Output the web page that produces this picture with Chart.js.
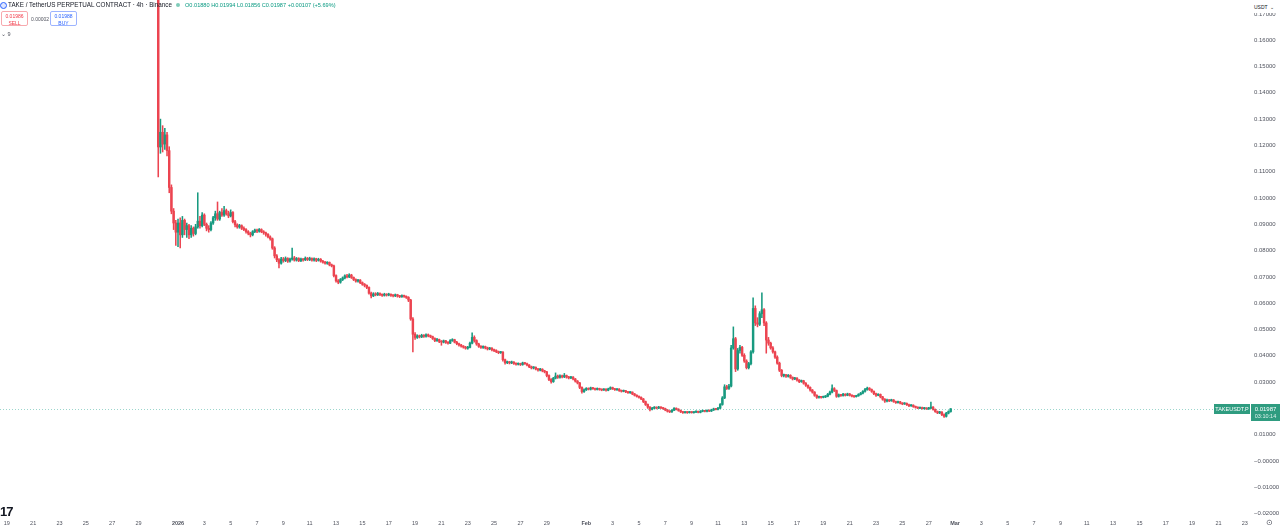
<!DOCTYPE html>
<html>
<head>
<meta charset="utf-8">
<title>TAKE / TetherUS PERPETUAL CONTRACT · 4h · Binance</title>
<script src="https://cdn.jsdelivr.net/npm/chart.js@4.4.1/dist/chart.umd.min.js"></script>
<style>
  html, body { margin: 0; padding: 0; background: #fff; }
  #wrap { position: relative; width: 1280px; height: 528px; overflow: hidden; font-family: "Liberation Sans", Arial, sans-serif; }
  #chart { position: absolute; left: 0; top: 0; }
  .t { position: absolute; white-space: nowrap; line-height: 1; }
  #logo { position: absolute; left: 0; top: 2px; width: 5px; height: 5px; border: 1px solid #2962ff; border-radius: 50%; background: #dfe6ff; }
  #title { left: 8px; top: 2px; font-size: 6.3px; color: #131722; }
  #dot { position: absolute; left: 176px; top: 3px; width: 4px; height: 4px; border-radius: 50%; background: #7fcbb9; }
  #ohlc { left: 185px; top: 3px; font-size: 5.6px; color: #089981; }
  .box { position: absolute; top: 11px; width: 27px; height: 15px; border-radius: 2px; text-align: center; font-size: 5px; line-height: 6.5px; padding-top: 1px; box-sizing: border-box; }
  #sell { left: 1px; border: 1px solid #f7a9ae; color: #f23645; }
  #buy { left: 50px; border: 1px solid #9db4ff; color: #2962ff; }
  #spread { left: 31px; top: 17px; font-size: 5px; color: #50535e; }
  #ind { left: 1px; top: 32px; font-size: 5.5px; color: #50535e; }
  #usdt { position: absolute; left: 1251px; top: 0; width: 29px; height: 13px; background: #fff; font-size: 5px; color: #131722; line-height: 14px; padding-left: 3px; box-sizing: border-box; }
  #tv { left: 0; top: 505px; font-size: 13px; font-weight: bold; color: #131722; letter-spacing: -1px; }
  #clock { left: 1266px; top: 519px; font-size: 8px; color: #50535e; }
</style>
</head>
<body>
<div id="wrap">
  <canvas id="chart" width="1280" height="528"></canvas>
  <div id="logo"></div>
  <div class="t" id="title">TAKE / TetherUS PERPETUAL CONTRACT · 4h · Binance</div>
  <div id="dot"></div>
  <div class="t" id="ohlc">O0.01880 H0.01994 L0.01856 C0.01987 +0.00107 (+5.69%)</div>
  <div class="box" id="sell">0.01986<br>SELL</div>
  <div class="t" id="spread">0.00002</div>
  <div class="box" id="buy">0.01988<br>BUY</div>
  <div class="t" id="ind">⌄ 9</div>
  <div id="usdt">USDT &nbsp;⌄</div>
  <div class="t" id="tv">17</div>
  <div class="t" id="clock">⊙</div>
</div>
<script>
// 4h candles, first one opens Dec 30 2025 12:00 (days counted from Jan 1 2026)
const firstCandleDay = -1.5;
const candlesPerDay = 6;

const opens = [
  .1950,.1194,.1250,
  .1205,.1240,.1180,.1040,.0950,.0905,
  .0870,.0905,.0860,.0915,.0880,.0895,
  .0860,.0885,.0865,.0890,.0912,.0895,
  .0935,.0900,.0885,.0880,.0905,.0925,
  .0940,.0920,.0945,.0935,.0952,.0940,
  .0932,.0945,.0910,.0898,.0890,.0895,
  .0885,.0880,.0872,.0866,.0860,.0872,
  .0878,.0874,.0880,.0872,.0868,.0862,
  .0852,.0845,.0810,.0780,.0765,.0752,
  .0768,.0762,.0770,.0760,.0768,.0772,
  .0764,.0770,.0762,.0768,.0765,.0771,
  .0766,.0770,.0764,.0769,.0763,.0767,
  .0760,.0756,.0752,.0755,.0746,.0742,
  .0705,.0685,.0680,.0690,.0696,.0704,
  .0700,.0707,.0698,.0690,.0684,.0688,
  .0678,.0672,.0668,.0660,.0638,.0628,
  .0635,.0632,.0637,.0633,.0630,.0634,
  .0631,.0634,.0630,.0628,.0632,.0627,
  .0625,.0629,.0626,.0622,.0612,.0540,
  .0482,.0470,.0476,.0472,.0478,.0474,
  .0480,.0476,.0473,.0466,.0458,.0462,
  .0455,.0452,.0457,.0451,.0448,.0458,
  .0461,.0452,.0446,.0441,.0437,.0433,
  .0429,.0432,.0448,.0470,.0458,.0445,
  .0436,.0432,.0435,.0430,.0426,.0429,
  .0423,.0420,.0416,.0412,.0414,.0385,
  .0374,.0377,.0373,.0376,.0371,.0368,
  .0370,.0367,.0373,.0370,.0365,.0358,
  .0354,.0356,.0350,.0346,.0349,.0343,
  .0339,.0325,.0310,.0302,.0315,.0323,
  .0318,.0324,.0320,.0325,.0319,.0316,
  .0319,.0312,.0304,.0297,.0280,.0264,
  .0271,.0276,.0273,.0278,.0275,.0272,
  .0275,.0272,.0270,.0273,.0269,.0274,
  .0279,.0274,.0271,.0273,.0268,.0265,
  .0267,.0263,.0260,.0262,.0255,.0250,
  .0246,.0242,.0236,.0226,.0215,.0205,
  .0197,.0201,.0204,.0201,.0205,.0202,
  .0199,.0194,.0189,.0187,.0193,.0200,
  .0197,.0192,.0187,.0184,.0186,.0184,
  .0186,.0184,.0186,.0188,.0185,.0189,
  .0191,.0189,.0192,.0190,.0194,.0198,
  .0196,.0201,.0215,.0240,.0282,.0276,
  .0285,.0430,.0465,.0350,.0420,.0432,
  .0402,.0380,.0355,.0370,.0415,.0580,
  .0525,.0520,.0560,.0575,.0525,.0460,
  .0448,.0430,.0415,.0395,.0372,.0345,
  .0325,.0328,.0322,.0326,.0318,.0312,
  .0315,.0308,.0302,.0305,.0296,.0288,
  .0280,.0270,.0262,.0250,.0242,.0244,
  .0242,.0244,.0246,.0254,.0262,.0275,
  .0268,.0246,.0252,.0249,.0254,.0250,
  .0255,.0250,.0247,.0245,.0248,.0253,
  .0258,.0265,.0272,.0277,.0272,.0265,
  .0256,.0250,.0253,.0244,.0235,.0228,
  .0232,.0229,.0232,.0226,.0222,.0225,
  .0220,.0217,.0219,.0214,.0210,.0212,
  .0207,.0204,.0201,.0203,.0199,.0201,
  .0198,.0201,.0205,.0196,.0188,.0183,
  .0186,.0176,.0170,.0182,.0188
];

const highs = [
  .2100,.1300,.1275,
  .1265,.1250,.1195,.1050,.0960,.0915,
  .0920,.0925,.0930,.0920,.0905,.0900,
  .0895,.0890,.0900,.1020,.0930,.0945,
  .0940,.0905,.0895,.0910,.0930,.0950,
  .0985,.0950,.0960,.0968,.0958,.0950,
  .0955,.0948,.0915,.0902,.0900,.0898,
  .0890,.0884,.0876,.0870,.0876,.0882,
  .0882,.0884,.0883,.0876,.0870,.0865,
  .0856,.0848,.0815,.0785,.0770,.0774,
  .0774,.0776,.0773,.0772,.0810,.0778,
  .0774,.0773,.0772,.0770,.0776,.0774,
  .0775,.0773,.0773,.0771,.0771,.0770,
  .0763,.0759,.0758,.0757,.0749,.0745,
  .0708,.0690,.0694,.0700,.0708,.0710,
  .0712,.0710,.0700,.0693,.0691,.0690,
  .0681,.0675,.0670,.0662,.0642,.0640,
  .0640,.0641,.0639,.0636,.0638,.0636,
  .0638,.0636,.0633,.0635,.0634,.0630,
  .0632,.0631,.0628,.0625,.0615,.0545,
  .0488,.0480,.0479,.0482,.0481,.0484,
  .0483,.0479,.0475,.0468,.0466,.0464,
  .0458,.0460,.0459,.0454,.0462,.0465,
  .0463,.0455,.0448,.0444,.0439,.0436,
  .0436,.0452,.0487,.0476,.0461,.0448,
  .0439,.0438,.0437,.0433,.0432,.0431,
  .0426,.0423,.0418,.0417,.0416,.0388,
  .0380,.0379,.0380,.0378,.0373,.0373,
  .0372,.0376,.0375,.0372,.0367,.0361,
  .0359,.0358,.0352,.0352,.0351,.0345,
  .0341,.0328,.0313,.0318,.0335,.0327,
  .0328,.0327,.0333,.0327,.0322,.0322,
  .0321,.0314,.0306,.0299,.0282,.0274,
  .0279,.0278,.0281,.0280,.0277,.0278,
  .0277,.0274,.0275,.0275,.0277,.0282,
  .0281,.0276,.0275,.0275,.0270,.0270,
  .0269,.0265,.0264,.0263,.0257,.0252,
  .0248,.0244,.0238,.0228,.0217,.0207,
  .0204,.0207,.0206,.0208,.0206,.0204,
  .0201,.0196,.0191,.0196,.0203,.0202,
  .0199,.0194,.0189,.0188,.0188,.0189,
  .0188,.0188,.0191,.0190,.0192,.0194,
  .0193,.0195,.0194,.0197,.0201,.0200,
  .0204,.0218,.0245,.0290,.0288,.0292,
  .0440,.0510,.0470,.0428,.0440,.0436,
  .0408,.0385,.0375,.0420,.0620,.0590,
  .0545,.0568,.0639,.0580,.0530,.0470,
  .0452,.0435,.0418,.0400,.0376,.0348,
  .0331,.0330,.0329,.0328,.0320,.0318,
  .0317,.0310,.0308,.0307,.0298,.0290,
  .0282,.0272,.0264,.0252,.0247,.0246,
  .0247,.0249,.0257,.0266,.0290,.0279,
  .0270,.0255,.0254,.0257,.0256,.0258,
  .0257,.0252,.0249,.0250,.0256,.0261,
  .0268,.0276,.0281,.0279,.0274,.0267,
  .0258,.0256,.0255,.0246,.0237,.0235,
  .0234,.0235,.0234,.0228,.0228,.0227,
  .0222,.0222,.0221,.0216,.0215,.0214,
  .0209,.0206,.0205,.0205,.0204,.0203,
  .0204,.0224,.0207,.0198,.0190,.0189,
  .0188,.0179,.0185,.0191,.01994
];

const lows = [
  .1080,.1170,.1175,
  .1185,.1160,.1020,.0940,.0880,.0820,
  .0815,.0810,.0850,.0860,.0850,.0845,
  .0850,.0855,.0860,.0885,.0885,.0890,
  .0895,.0875,.0870,.0875,.0900,.0915,
  .0915,.0915,.0930,.0930,.0935,.0925,
  .0928,.0905,.0890,.0885,.0885,.0880,
  .0876,.0866,.0860,.0852,.0856,.0868,
  .0868,.0870,.0868,.0862,.0855,.0848,
  .0840,.0805,.0772,.0758,.0734,.0748,
  .0756,.0758,.0755,.0756,.0764,.0760,
  .0760,.0758,.0758,.0760,.0762,.0762,
  .0762,.0760,.0760,.0758,.0760,.0756,
  .0752,.0748,.0748,.0742,.0738,.0700,
  .0680,.0674,.0676,.0686,.0692,.0696,
  .0697,.0694,.0686,.0680,.0680,.0674,
  .0668,.0662,.0655,.0634,.0620,.0625,
  .0628,.0629,.0629,.0626,.0627,.0627,
  .0628,.0626,.0624,.0625,.0623,.0621,
  .0622,.0622,.0618,.0606,.0535,.0415,
  .0462,.0466,.0468,.0469,.0470,.0471,
  .0472,.0469,.0462,.0454,.0455,.0450,
  .0440,.0449,.0447,.0444,.0446,.0455,
  .0449,.0442,.0437,.0433,.0429,.0425,
  .0425,.0430,.0445,.0452,.0440,.0432,
  .0428,.0428,.0426,.0422,.0423,.0419,
  .0416,.0412,.0408,.0409,.0380,.0368,
  .0370,.0369,.0370,.0367,.0364,.0365,
  .0363,.0364,.0367,.0362,.0355,.0350,
  .0350,.0346,.0342,.0343,.0339,.0335,
  .0320,.0305,.0296,.0299,.0312,.0314,
  .0315,.0316,.0317,.0315,.0312,.0313,
  .0308,.0300,.0293,.0275,.0258,.0261,
  .0268,.0270,.0270,.0272,.0269,.0270,
  .0269,.0267,.0268,.0266,.0267,.0272,
  .0272,.0268,.0268,.0265,.0262,.0263,
  .0260,.0257,.0257,.0252,.0247,.0243,
  .0239,.0233,.0222,.0211,.0200,.0190,
  .0194,.0199,.0198,.0199,.0199,.0196,
  .0191,.0186,.0184,.0185,.0191,.0194,
  .0189,.0184,.0181,.0182,.0181,.0182,
  .0182,.0182,.0184,.0183,.0183,.0187,
  .0187,.0187,.0188,.0188,.0192,.0194,
  .0194,.0199,.0212,.0237,.0272,.0272,
  .0282,.0425,.0340,.0345,.0410,.0398,
  .0375,.0350,.0350,.0365,.0410,.0515,
  .0510,.0515,.0545,.0515,.0410,.0440,
  .0425,.0410,.0390,.0368,.0340,.0320,
  .0320,.0318,.0319,.0314,.0308,.0309,
  .0304,.0298,.0299,.0292,.0284,.0276,
  .0266,.0258,.0246,.0238,.0239,.0239,
  .0240,.0241,.0244,.0251,.0259,.0264,
  .0242,.0243,.0246,.0247,.0247,.0248,
  .0247,.0244,.0242,.0243,.0246,.0251,
  .0255,.0262,.0269,.0268,.0261,.0252,
  .0246,.0248,.0240,.0231,.0223,.0225,
  .0226,.0227,.0223,.0219,.0220,.0217,
  .0214,.0215,.0211,.0207,.0208,.0204,
  .0201,.0199,.0199,.0197,.0197,.0196,
  .0196,.0199,.0193,.0185,.0180,.0180,
  .0172,.0166,.0167,.0179,.01856
];

const closes = [
  .1194,.1250,.1205,
  .1240,.1180,.1040,.0950,.0905,.0870,
  .0905,.0860,.0915,.0880,.0895,.0860,
  .0885,.0865,.0890,.0912,.0895,.0935,
  .0900,.0885,.0880,.0905,.0925,.0940,
  .0920,.0945,.0935,.0952,.0940,.0932,
  .0945,.0910,.0898,.0890,.0895,.0885,
  .0880,.0872,.0866,.0860,.0872,.0878,
  .0874,.0880,.0872,.0868,.0862,.0852,
  .0845,.0810,.0780,.0765,.0752,.0768,
  .0762,.0770,.0760,.0768,.0772,.0764,
  .0770,.0762,.0768,.0765,.0771,.0766,
  .0770,.0764,.0769,.0763,.0767,.0760,
  .0756,.0752,.0755,.0746,.0742,.0705,
  .0685,.0680,.0690,.0696,.0704,.0700,
  .0707,.0698,.0690,.0684,.0688,.0678,
  .0672,.0668,.0660,.0638,.0628,.0635,
  .0632,.0637,.0633,.0630,.0634,.0631,
  .0634,.0630,.0628,.0632,.0627,.0625,
  .0629,.0626,.0622,.0612,.0540,.0482,
  .0470,.0476,.0472,.0478,.0474,.0480,
  .0476,.0473,.0466,.0458,.0462,.0455,
  .0452,.0457,.0451,.0448,.0458,.0461,
  .0452,.0446,.0441,.0437,.0433,.0429,
  .0432,.0448,.0470,.0458,.0445,.0436,
  .0432,.0435,.0430,.0426,.0429,.0423,
  .0420,.0416,.0412,.0414,.0385,.0374,
  .0377,.0373,.0376,.0371,.0368,.0370,
  .0367,.0373,.0370,.0365,.0358,.0354,
  .0356,.0350,.0346,.0349,.0343,.0339,
  .0325,.0310,.0302,.0315,.0323,.0318,
  .0324,.0320,.0325,.0319,.0316,.0319,
  .0312,.0304,.0297,.0280,.0264,.0271,
  .0276,.0273,.0278,.0275,.0272,.0275,
  .0272,.0270,.0273,.0269,.0274,.0279,
  .0274,.0271,.0273,.0268,.0265,.0267,
  .0263,.0260,.0262,.0255,.0250,.0246,
  .0242,.0236,.0226,.0215,.0205,.0197,
  .0201,.0204,.0201,.0205,.0202,.0199,
  .0194,.0189,.0187,.0193,.0200,.0197,
  .0192,.0187,.0184,.0186,.0184,.0186,
  .0184,.0186,.0188,.0185,.0189,.0191,
  .0189,.0192,.0190,.0194,.0198,.0196,
  .0201,.0215,.0240,.0282,.0276,.0285,
  .0430,.0465,.0350,.0420,.0432,.0402,
  .0380,.0355,.0370,.0415,.0580,.0525,
  .0520,.0560,.0575,.0525,.0460,.0448,
  .0430,.0415,.0395,.0372,.0345,.0325,
  .0328,.0322,.0326,.0318,.0312,.0315,
  .0308,.0302,.0305,.0296,.0288,.0280,
  .0270,.0262,.0250,.0242,.0244,.0242,
  .0244,.0246,.0254,.0262,.0275,.0268,
  .0246,.0252,.0249,.0254,.0250,.0255,
  .0250,.0247,.0245,.0248,.0253,.0258,
  .0265,.0272,.0277,.0272,.0265,.0256,
  .0250,.0253,.0244,.0235,.0228,.0232,
  .0229,.0232,.0226,.0222,.0225,.0220,
  .0217,.0219,.0214,.0210,.0212,.0207,
  .0204,.0201,.0203,.0199,.0201,.0198,
  .0201,.0205,.0196,.0188,.0183,.0186,
  .0176,.0170,.0182,.0188,.01987
];

const lastPrice = 0.01987;
const countdown = "03:10:14";
const symbolLabel = "TAKEUSDT.P";

// x axis: day offsets from Jan 1 2026 and their labels
const xTickDays = [-13,-11,-9,-7,-5,-3,0,2,4,6,8,10,12,14,16,18,20,22,24,26,28,31,33,35,37,39,41,43,45,47,49,51,53,55,57,59,61,63,65,67,69,71,73,75,77,79,81];
const xTickLabels = ["19","21","23","25","27","29","2026","3","5","7","9","11","13","15","17","19","21","23","25","27","29","Feb","3","5","7","9","11","13","15","17","19","21","23","25","27","Mar","3","5","7","9","11","13","15","17","19","21","23"];

// y axis ticks (price axis on the right)
const yTickValues = [-0.02,-0.01,0,0.01,0.02,0.03,0.04,0.05,0.06,0.07,0.08,0.09,0.10,0.11,0.12,0.13,0.14,0.15,0.16,0.17];
const yTickLabels = ["−0.02000","−0.01000","−0.00000","0.01000","0.02000","0.03000","0.04000","0.05000","0.06000","0.07000","0.08000","0.09000","0.10000","0.11000","0.12000","0.13000","0.14000","0.15000","0.16000","0.17000"];

const upColor = "#189a80";
const downColor = "#ec4450";

if (opens.length !== closes.length || highs.length !== closes.length || lows.length !== closes.length) {
  console.error("candle arrays differ in length", opens.length, highs.length, lows.length, closes.length);
}

const candleDays = closes.map((_, i) => firstCandleDay + i / candlesPerDay);
const candleColors = closes.map((c, i) => (c >= opens[i] ? upColor : downColor));
const bodyData = closes.map((c, i) => ({ x: candleDays[i], y: [opens[i], c] }));
const wickData = closes.map((c, i) => ({ x: candleDays[i], y: [lows[i], highs[i]] }));

const lastPricePlugin = {
  id: "lastPrice",
  afterDraw(chart) {
    const { ctx, chartArea, scales } = chart;
    const y = Math.round(scales.y.getPixelForValue(lastPrice)) + 0.5;
    ctx.save();
    ctx.strokeStyle = "rgba(8,153,129,0.4)";
    ctx.lineWidth = 1;
    ctx.setLineDash([1, 2]);
    ctx.beginPath();
    ctx.moveTo(chartArea.left, y);
    ctx.lineTo(1214, y);
    ctx.stroke();
    ctx.setLineDash([]);

    ctx.fillStyle = "#2f9c80";
    ctx.fillRect(1214, y - 5.5, 36, 10);
    ctx.fillRect(1251, y - 5.5, 29, 17);
    ctx.fillStyle = "#ffffff";
    ctx.textBaseline = "middle";
    ctx.textAlign = "center";
    ctx.font = "5.5px 'Liberation Sans', Arial, sans-serif";
    ctx.fillText(symbolLabel, 1232, y);
    ctx.font = "6px 'Liberation Sans', Arial, sans-serif";
    ctx.fillText(lastPrice.toFixed(5), 1265.5, y - 0.5);
    ctx.fillStyle = "rgba(255,255,255,0.85)";
    ctx.font = "5.5px 'Liberation Sans', Arial, sans-serif";
    ctx.fillText(countdown, 1265.5, y + 7);
    ctx.restore();
  }
};

Chart.defaults.font.family = "'Liberation Sans', Arial, sans-serif";

new Chart(document.getElementById("chart"), {
  type: "bar",
  data: {
    datasets: [
      {
        data: bodyData,
        backgroundColor: candleColors,
        barThickness: 1.8,
        minBarLength: 1,
        grouped: false,
        order: 0
      },
      {
        data: wickData,
        backgroundColor: candleColors,
        barThickness: 0.9,
        grouped: false,
        order: 1
      }
    ]
  },
  options: {
    responsive: false,
    devicePixelRatio: 1,
    animation: false,
    layout: { padding: 0 },
    plugins: { legend: { display: false }, tooltip: { enabled: false } },
    scales: {
      x: {
        type: "linear",
        offset: false,
        min: -13.516,
        max: 81.395,
        grid: { display: false, drawTicks: false },
        border: { display: false },
        afterBuildTicks: (scale) => {
          scale.ticks = xTickDays.map((v) => ({ value: v }));
        },
        afterFit: (scale) => {
          scale.height = 10;
          scale.paddingLeft = 0;
          scale.paddingRight = 0;
        },
        ticks: {
          autoSkip: false,
          maxRotation: 0,
          padding: 2,
          color: "#50535e",
          font: (ctx) => {
            const label = xTickLabels[ctx.index];
            return { size: 5.5, weight: /^[0-9]{1,2}$/.test(label) ? "normal" : "bold" };
          },
          callback: (value, index) => xTickLabels[index]
        }
      },
      y: {
        position: "right",
        min: -0.02167,
        max: 0.17529,
        grid: { display: false, drawTicks: false },
        border: { display: false },
        afterBuildTicks: (scale) => {
          scale.ticks = yTickValues.map((v) => ({ value: v }));
        },
        afterFit: (scale) => {
          scale.width = 30;
          scale.paddingTop = 0;
          scale.paddingBottom = 0;
        },
        ticks: {
          padding: 4,
          color: "#50535e",
          font: { size: 6 },
          callback: (value, index) => yTickLabels[index]
        }
      }
    }
  },
  plugins: [lastPricePlugin]
});
</script>
</body>
</html>
